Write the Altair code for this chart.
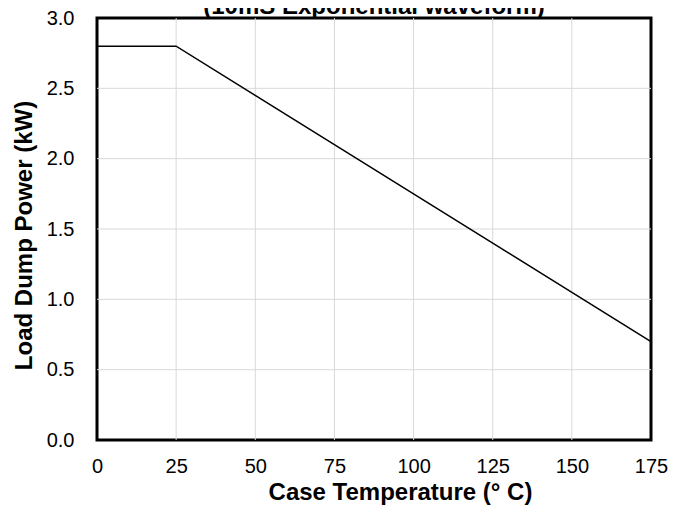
import altair as alt
import pandas as pd

# Data
temps = [0, 25, 175]
power = [2.8, 2.8, 0.7]
x_ticks = [0, 25, 50, 75, 100, 125, 150, 175]
y_ticks = [0.0, 0.5, 1.0, 1.5, 2.0, 2.5, 3.0]
x_grid = [25, 50, 75, 100, 125, 150]
y_grid = [0.5, 1.0, 1.5, 2.0, 2.5]
title_lines = ["(10mS Exponential waveform)"]

W, H = 554, 422
FONT = "Liberation Sans"

xscale = alt.Scale(domain=[0, 175], nice=False, zero=False)
yscale = alt.Scale(domain=[0, 3], nice=False, zero=False)

xaxis = alt.Axis(values=x_ticks, grid=False, ticks=False, domain=False,
                 labelFont=FONT, labelFontSize=20, labelColor="black",
                 labelPadding=16, labelFlush=False, labelOverlap=False,
                 title="Case Temperature (° C)", titleFont=FONT, titleFontSize=24,
                 titleFontWeight="bold", titleColor="black", titlePadding=4,
                 titleX=W / 2 + 26)
yaxis = alt.Axis(values=y_ticks, format=".1f", grid=False, ticks=False, domain=False,
                 labelFont=FONT, labelFontSize=20, labelColor="black",
                 labelPadding=23, labelFlush=False, labelOverlap=False,
                 title="Load Dump Power (kW)", titleFont=FONT, titleFontSize=24,
                 titleFontWeight="bold", titleColor="black", titlePadding=10,
                 titleY=H / 2 + 6)

line_df = pd.DataFrame({"t": temps, "p": power})

vgrid = alt.Chart(pd.DataFrame({"t": x_grid})).mark_rule(
    color="#d9d9d9", strokeWidth=1
).encode(x=alt.X("t:Q", scale=xscale, axis=xaxis))

hgrid = alt.Chart(pd.DataFrame({"p": y_grid})).mark_rule(
    color="#d9d9d9", strokeWidth=1
).encode(y=alt.Y("p:Q", scale=yscale, axis=yaxis))

line = alt.Chart(line_df).mark_line(color="black", strokeWidth=1.5).encode(
    x=alt.X("t:Q", scale=xscale, axis=xaxis),
    y=alt.Y("p:Q", scale=yscale, axis=yaxis),
)

title = alt.Chart(pd.DataFrame({"s": title_lines})).mark_text(
    font=FONT, fontSize=24, fontWeight="bold", baseline="alphabetic",
    align="center", color="black"
).encode(x=alt.value(W / 2), y=alt.value(-4), text="s:N")

chart = alt.layer(vgrid, hgrid, line, title).properties(
    width=W, height=H,
    autosize=alt.AutoSizeParams(type="none"),
    padding={"left": 89, "top": 10, "right": 27, "bottom": 68},
).configure_view(stroke="black", strokeWidth=3)

chart.save("out.html", embed_options={"renderer": "svg", "actions": False})
